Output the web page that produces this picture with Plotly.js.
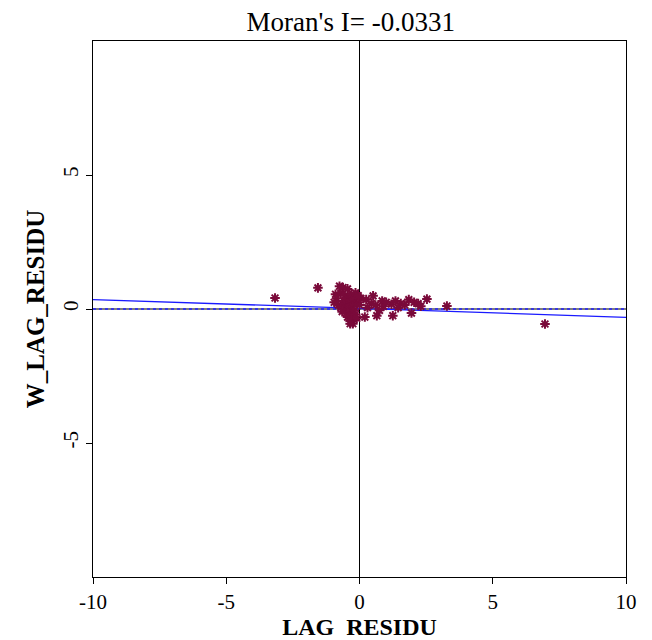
<!DOCTYPE html>
<html><head><meta charset="utf-8">
<script src="https://cdn.plot.ly/plotly-3.0.1.min.js"></script>
<style>html,body{margin:0;padding:0;background:#fff}</style>
</head><body>
<div id="chart" style="width:652px;height:640px"></div>
<script>
const lagResidu = [-3.17,-1.56,-0.75,-0.62,-0.45,-0.9,-0.85,-0.95,-0.7,-0.55,-0.4,-0.3,-0.15,-0.8,-0.6,-0.5,-0.35,-0.2,-0.1,-0.7,-0.55,-0.4,-0.25,-0.65,-0.5,-0.35,-0.2,-0.45,-0.3,-0.15,-0.35,-0.25,-0.3,-0.1,0.0,0.05,-0.05,0.25,0.51,0.45,0.6,0.85,0.9,1.2,1.35,1.55,1.85,2.05,2.2,2.53,3.28,1.95,1.25,0.65,0.2,-0.35,6.96,1.7,1.0,0.3,0.75,1.45,2.3];
const wLagResidu = [0.41,0.79,0.85,0.80,0.75,0.55,0.40,0.25,0.6,0.5,0.45,0.55,0.6,0.15,0.3,0.2,0.25,0.35,0.2,0.05,0.0,0.05,0.1,-0.1,-0.15,-0.1,-0.05,-0.3,-0.25,-0.2,-0.45,-0.55,-0.4,-0.35,0.15,0.4,0.5,0.35,0.49,0.2,0.15,0.3,0.1,0.18,0.3,0.2,0.35,0.25,0.2,0.37,0.11,-0.15,-0.25,-0.25,-0.3,-0.55,-0.56,0.15,0.25,0.05,-0.05,0.05,0.1];
const moranI = -0.0331;
const intercept = 0.02;
const lineX = [-10, 10];
const xTicks = [-10, -5, 0, 5, 10];
const yTicks = [-5, 0, 5];

const traces = [
  {x: [-10, 10], y: [0, 0], mode: 'lines', line: {color: '#000', width: 1.2}, hoverinfo: 'skip'},
  {x: [-10, 10], y: [0, 0], mode: 'lines', line: {color: '#2222ff', width: 1.5, dash: 'dot'}, hoverinfo: 'skip'},
  {x: [0, 0], y: [-10, 10], mode: 'lines', line: {color: '#000', width: 1}, hoverinfo: 'skip'},
  {x: lineX, y: lineX.map(v => intercept + moranI * v), mode: 'lines', line: {color: '#1a1aff', width: 1.3}},
  {x: lagResidu, y: wLagResidu, mode: 'markers',
   marker: {symbol: 'asterisk-open', size: 8, color: '#7a0a3a', line: {color: '#7a0a3a', width: 2}}}
];

const layout = {
  width: 652, height: 640,
  margin: {l: 93, r: 26, t: 41, b: 63},
  showlegend: false,
  paper_bgcolor: '#fff', plot_bgcolor: '#fff',
  font: {family: 'Liberation Serif, serif', color: '#000'},
  title: {text: "Moran's I= -0.0331", font: {size: 27, family: 'Liberation Serif, serif'}, x: 0.538, xanchor: 'center', y: 0.967, yanchor: 'middle'},
  xaxis: {
    range: [-10, 10], tickvals: xTicks, ticktext: xTicks.map(String),
    showgrid: false, zeroline: false, showline: true, linecolor: '#000', linewidth: 1, mirror: true,
    ticks: 'outside', ticklen: 6, tickcolor: '#000', tickfont: {size: 21},
    title: {text: '<b>LAG  RESIDU</b>', font: {size: 24}, standoff: 0}
  },
  yaxis: {
    range: [-10, 10], tickvals: yTicks, ticktext: yTicks.map(String), tickangle: -90,
    showgrid: false, zeroline: false, showline: true, linecolor: '#000', linewidth: 1, mirror: true,
    ticks: 'outside', ticklen: 6, tickcolor: '#000', tickfont: {size: 21},
    title: {text: '<b>W_LAG_RESIDU</b>', font: {size: 25}, standoff: 6}
  }
};
Plotly.newPlot('chart', traces, layout, {displayModeBar: false, staticPlot: true});
</script>
</body></html>
